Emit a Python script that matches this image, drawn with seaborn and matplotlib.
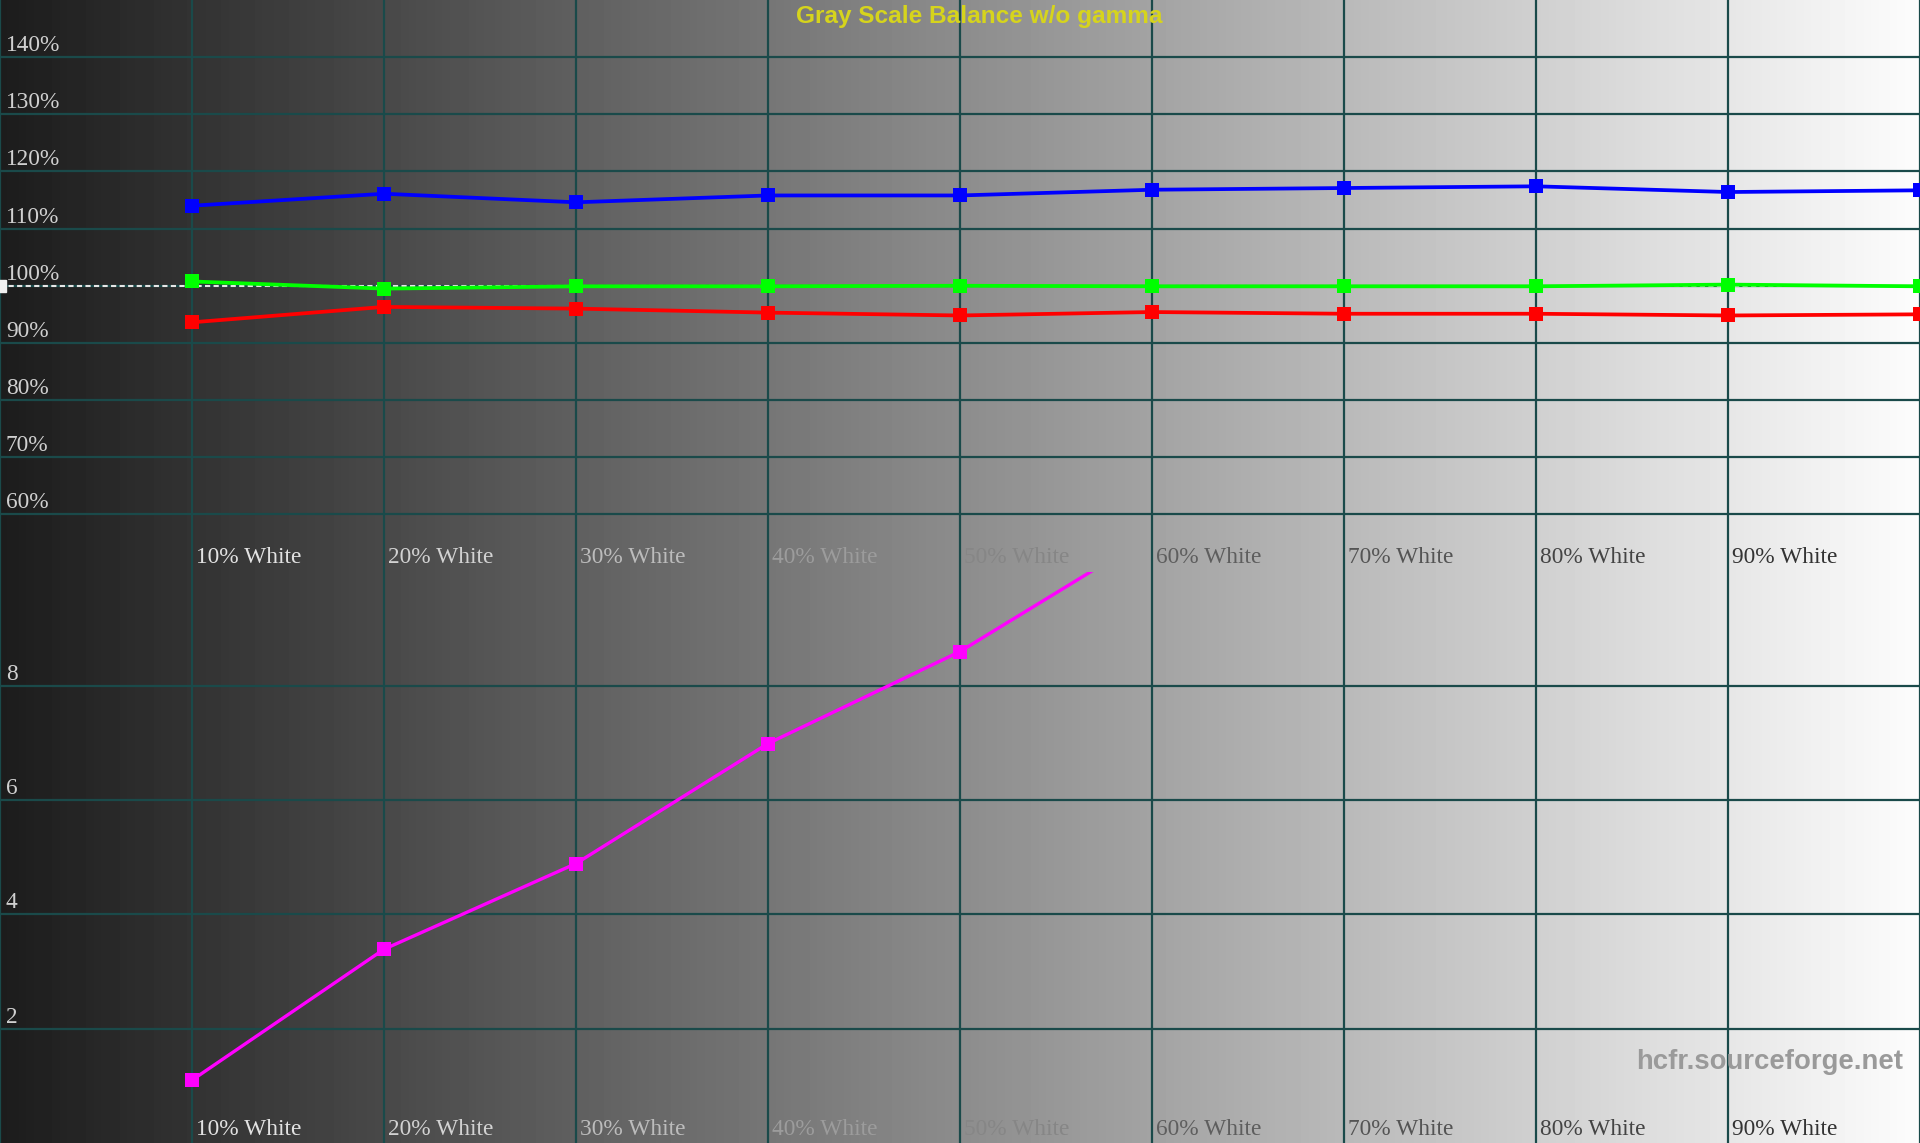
import numpy as np
import pandas as pd
import matplotlib
matplotlib.use("Agg")
import matplotlib.pyplot as plt
import matplotlib.transforms as mtransforms
import seaborn as sns

# ---------------- data ----------------
levels = [10, 20, 30, 40, 50, 60, 70, 80, 90, 100]
red_pct = [93.6, 96.3, 96.0, 95.3, 94.8, 95.4, 95.1, 95.1, 94.8, 95.0]
green_pct = [100.75, 99.5, 99.9, 99.9, 100.0, 99.9, 99.9, 99.9, 100.2, 99.9]
blue_pct = [114.0, 116.1, 114.6, 115.8, 115.8, 116.8, 117.1, 117.4, 116.4, 116.7]
de_levels = [10, 20, 30, 40, 50, 60]
delta_e = [1.10, 3.39, 4.89, 6.99, 8.60, 10.65]

x_labels = ["10% White", "20% White", "30% White", "40% White", "50% White",
            "60% White", "70% White", "80% White", "90% White"]
x_label_pos = [10, 20, 30, 40, 50, 60, 70, 80, 90]
x_label_colors = ["#e2e2e2", "#d2d2d2", "#bcbcbc", "#9c9c9c", "#868686",
                  "#5e5e5e", "#545454", "#444444", "#333333"]
top_yticks = [60, 70, 80, 90, 100, 110, 120, 130, 140]
top_ylabels = ["60%", "70%", "80%", "90%", "100%", "110%", "120%", "130%", "140%"]
bot_yticks = [2, 4, 6, 8]
bot_ylabels = ["2", "4", "6", "8"]

title = "Gray Scale Balance w/o gamma"
watermark = "hcfr.sourceforge.net"

# ---------------- figure ----------------
W, H, DPI = 1920, 1143, 100
fig = plt.figure(figsize=(W / DPI, H / DPI), dpi=DPI)

# background gradient
bg = fig.add_axes([0, 0, 1, 1], zorder=0)
grad = np.linspace(0.11, 0.99, 512)[None, :]
bg.imshow(grad, cmap="gray", vmin=0, vmax=1, aspect="auto", extent=[0, 1, 0, 1])
bg.set_axis_off()

grid_color = "#1a4a4a"
serif = ["Liberation Serif", "DejaVu Serif"]
sans = ["Liberation Sans", "DejaVu Sans"]

ax_top = fig.add_axes([0, 0.5, 1, 0.5], zorder=1)
ax_bot = fig.add_axes([0, 0.0, 1, 0.5], zorder=1)

for ax in (ax_top, ax_bot):
    ax.set_facecolor("none")
    for s in ax.spines.values():
        s.set_visible(False)
    ax.set_xlim(0, 100)
    ax.set_xticks(levels[:-1] + [0, 100])
    ax.tick_params(length=0, labelbottom=False, labelleft=False)
    ax.grid(True, color=grid_color, lw=1.6)
    ax.set_axisbelow(True)

ax_top.set_ylim(50, 150)
ax_top.set_yticks(top_yticks)
ax_bot.set_ylim(0, 10)
ax_bot.set_yticks(bot_yticks)

# reference dashed line at 100%
ax_top.axhline(100, color="#e6e6e6", lw=1.5, ls=(0, (2.5, 1.6)), zorder=2)
ax_top.plot([0], [100], marker="s", ms=9, color="#f0f0f0", mec="#f0f0f0",
            ls="none", zorder=3)

# series
sns.lineplot(x=levels, y=green_pct, ax=ax_top, color="#00ff00", lw=2.7,
             marker="s", markersize=10.5, markeredgewidth=0, zorder=4)
sns.lineplot(x=levels, y=red_pct, ax=ax_top, color="#ff0000", lw=2.7,
             marker="s", markersize=10.5, markeredgewidth=0, zorder=4)
sns.lineplot(x=levels, y=blue_pct, ax=ax_top, color="#0000ff", lw=2.7,
             marker="s", markersize=10.5, markeredgewidth=0, zorder=4)
sns.lineplot(x=de_levels, y=delta_e, ax=ax_bot, color="#ff00ff", lw=2.4,
             marker="s", markersize=10.5, markeredgewidth=0, zorder=4)

for ax in (ax_top, ax_bot):
    ax.set_xlabel("")
    ax.set_ylabel("")
    ax.set_xlim(0, 100)

# y labels (inside, left, above gridline)
up = mtransforms.ScaledTranslation(0, 6 / DPI, fig.dpi_scale_trans)
for ax, ticks, labs in ((ax_top, top_yticks, top_ylabels),
                        (ax_bot, bot_yticks, bot_ylabels)):
    tr = ax.get_yaxis_transform() + up
    for t, lab in zip(ticks, labs):
        ax.text(0.003, t, lab, transform=tr, ha="left", va="baseline",
                fontsize=16.8, family=serif, color="#d0d0d0", zorder=5)

# x labels (inside, near bottom of each panel)
right = mtransforms.ScaledTranslation(4 / DPI, 0, fig.dpi_scale_trans)
for ax in (ax_top, ax_bot):
    tr = ax.get_xaxis_transform() + right
    for xp, lab, c in zip(x_label_pos, x_labels, x_label_colors):
        ax.text(xp, 0.024, lab, transform=tr, ha="left", va="center",
                fontsize=16.8, family=serif, color=c, zorder=5)

fig.text(0.51, 1 - 16.5 / H, title, ha="center", va="center", fontsize=17.6,
         fontweight="bold", family=sans, color="#d6d41c", zorder=6)
fig.text(0.991, 1 - 1062 / H, watermark, ha="right", va="center", fontsize=19.8,
         fontweight="bold", family=sans, color="#9a9a9a", zorder=6)

fig.savefig("out.png", dpi=DPI)
